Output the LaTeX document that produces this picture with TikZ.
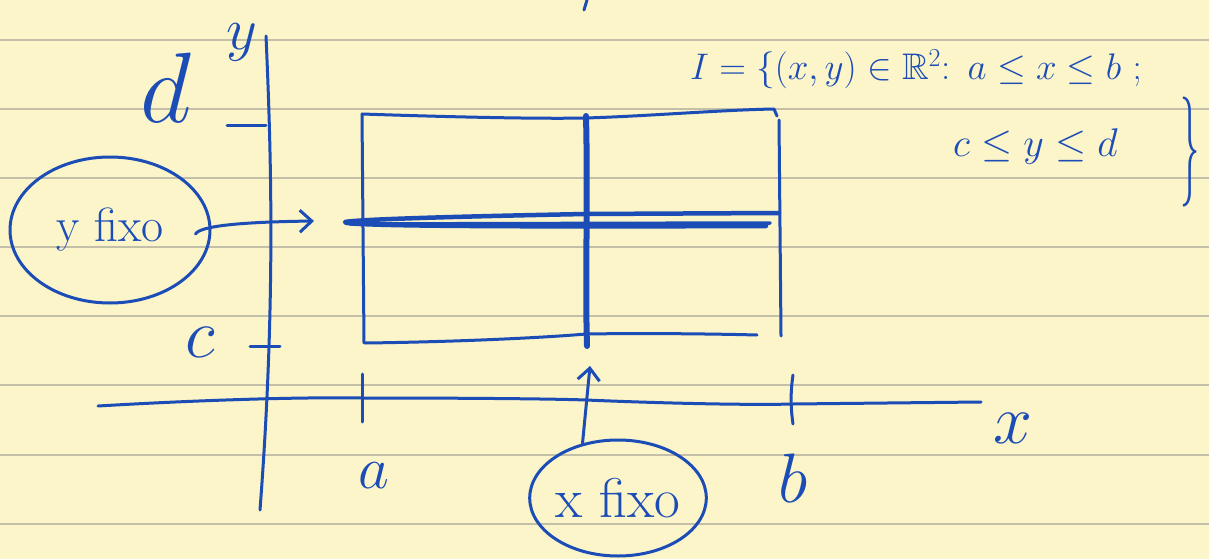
\RequirePackage{fix-cm}
\documentclass[tikz,border=0pt]{standalone}
\usepackage{amssymb}
\usepackage{graphicx}
\usetikzlibrary{arrows.meta,shapes.geometric}
\definecolor{paper}{HTML}{FCF5CA}
\definecolor{rule}{HTML}{C4BFA8}
\definecolor{ink}{HTML}{1C4DB6}
\tikzset{
  pen/.style={draw=ink, line width=3pt, line cap=round, line join=round},
  heavy/.style={pen, line width=6pt},
  lab/.style={text=ink, inner sep=0pt},
  ring/.style={pen, ellipse, inner sep=0pt, text=ink},
  tip/.style={-{Straight Barb[length=12pt,width=22pt,line width=3pt]}}
}
\begin{document}
\begin{tikzpicture}[x=1pt,y=-1pt]
\fill[paper] (0,0) rectangle (1209,559);
\useasboundingbox (0,0) rectangle (1209,559);
\foreach \yy in {40,109,178,247,316,385,455,524}
  \draw[rule, line width=1.6pt] (0,\yy) -- (1209,\yy);

% small stroke at top
\draw[pen] (587,0) -- (584,10);

% axes
\draw[pen] (266,36) .. controls (271,150) and (276,300) .. (260,510);
\draw[pen] (98,406) .. controls (200,400) and (300,397) .. (362,398)
  .. controls (480,398) and (560,399) .. (586,400)
  .. controls (680,404) and (760,405) .. (793,404) -- (981,402);

% ticks on y axis
\draw[pen] (227,126) -- (266,126);
\draw[pen] (250,346) -- (280,346);
% ticks on x axis
\draw[pen] (362,374) -- (362,422);
\draw[pen] (793,375) .. controls (790,395) and (791,410) .. (793,424);

% axis labels
\node[lab, font=\fontsize{100}{110}\selectfont] (lbl-d) at (166,88) {$d$};
\node[lab, font=\fontsize{70}{80}\selectfont] (lbl-c) at (200,342) {$c$};
\node[lab, font=\fontsize{60}{70}\selectfont] (lbl-y) at (242,42) {$y$};
\node[lab, font=\fontsize{60}{70}\selectfont] (lbl-a) at (374,476) {$a$};
\node[lab, font=\fontsize{70}{80}\selectfont] (lbl-b) at (793,478) {$b$};
\node[lab, font=\fontsize{70}{80}\selectfont] (lbl-x) at (1013,428) {$x$};

% rectangle
\draw[pen] (362,114) -- (364,343);
\draw[pen] (779,120) -- (781,336);
\draw[pen] (362,114) .. controls (450,117) and (540,119) .. (586,118)
  .. controls (650,116) and (720,110) .. (774,109) -- (777,116);
\draw[pen] (365,343) .. controls (450,342) and (540,338) .. (586,334)
  .. controls (650,333) and (720,334) .. (757,335);

% fixed lines
\draw[heavy] (586,116) .. controls (588,200) and (585,280) .. (587,346);
\draw[pen, line width=4.5pt] (779,213) -- (586,214)
  .. controls (480,216) and (360,219) .. (345,222)
  .. controls (340,226) and (500,227) .. (766,226);
\draw[pen, line width=3.5pt] (350,224) -- (770,223);

% rings
\node[ring, minimum width=200pt, minimum height=146pt,
  font=\fontsize{48}{50}\selectfont] (yfix) at (110,230) {y fixo};
\node[ring, minimum width=170pt, minimum height=116pt,
  font=\fontsize{56}{60}\selectfont] (xfix) at (618,498) {x fixo};

\coordinate (ytip) at (314,221);
\coordinate (xtip) at (590,366);
\draw[pen, tip] ([xshift=-16pt,yshift=-4pt]yfix.east) .. controls (200,226) and (240,222) .. (ytip);
\draw[pen, tip] (xfix.123) -- (xtip);

% set definition
\node[lab, anchor=base west, font=\fontsize{37}{44}\selectfont] (setdef1) at (690,80)
  {$I=\{(x,y)\in\mathbb{R}^2\colon\ a\le x\le b\ ;$};
\node[lab, anchor=base west, font=\fontsize{40}{48}\selectfont] (setdef2) at (953,157)
  {$c\le y\le d$};
\node[lab, font=\fontsize{110}{120}\selectfont] (brace) at (1190,152) {\scalebox{0.35}[1]{$\}$}};
\end{tikzpicture}
\end{document}
